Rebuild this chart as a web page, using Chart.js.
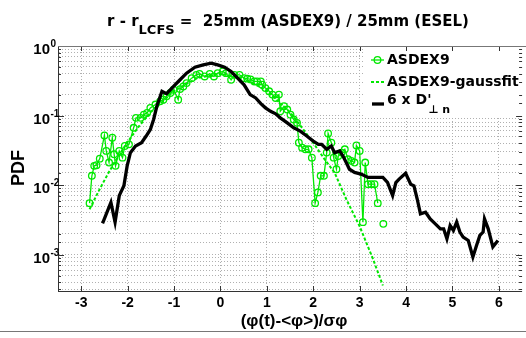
<!DOCTYPE html>
<html lang="en">
<head>
  <meta charset="UTF-8">
  <title>PDF at r - r_LCFS = 25mm</title>
  <script src="https://cdn.jsdelivr.net/npm/chart.js"></script>
  <style>
    html, body { margin: 0; padding: 0; background: #fff; }
    canvas { display: block; }
  </style>
</head>
<body>
  <canvas id="pdf-chart" width="526" height="338"></canvas>

  <script>
// ASDEX9 probe data (circles), null = gap
const asdexX = [-2.82,-2.77,-2.72,-2.67,-2.60,-2.50,-2.46,-2.40,-2.33,-2.29,
  -2.26,-2.18,-2.11,-2.06,-1.97,-1.87,-1.82,-1.72,-1.65,-1.58,
  -1.51,-1.40,-1.30,-1.23,-1.16,-1.08,-1.01,-0.91,-0.87,-0.80,
  -0.73,-0.62,-0.52,-0.45,-0.34,-0.23,-0.14,-0.06,0.05,0.12,
  0.23,0.30,0.41,0.51,0.58,0.65,0.73,0.79,0.87,0.90,
  0.97,1.05,1.12,1.19,1.26,1.29,1.37,1.44,1.51,1.58,
  1.65,1.69,1.76,1.83,1.90,1.97,2.04,2.10,2.16,2.23,
  2.29,2.32,2.39,2.44,2.50,2.54,2.61,2.68,2.75,2.82,
  2.89,2.93,3.00,3.07,3.12,3.18,3.25,3.32,3.39,3.45,
  3.51];
const asdexY = [0.0055,0.0136,0.0189,0.0193,0.024,0.0518,0.031,0.0211,0.048,0.0277,
  0.0189,0.031,0.0248,0.0365,0.0385,0.0667,0.0927,0.0927,0.103,0.109,
  0.129,0.144,0.160,0.169,0.189,0.211,0.235,0.169,0.24,0.262,
  0.293,0.345,0.385,0.398,0.365,0.398,0.365,0.407,0.430,0.407,
  0.327,0.385,0.385,0.345,0.339,0.331,0.309,0.309,0.309,0.277,
  0.248,0.223,0.20,0.179,0.20,0.115,0.136,0.122,0.103,0.0877,
  0.0785,0.0407,0.0345,0.0327,0.0327,0.0248,0.0055,0.00785,0.0136,0.0136,
  0.0293,0.0553,0.0407,0.0248,0.0169,0.0262,0.0293,0.0327,0.0235,0.0223,
  0.0211,0.0372,0.031,0.00293,0.0211,0.0103,0.0103,0.0103,0.0055,null,
  0.00277];

// gauss fit to ASDEX9 (dashed)
const gaussX = [-2.82,-2.6,-2.4,-2.2,-2.0,-1.75,-1.5,-1.0,-0.5,0,0.5,1.0,1.5,1.72,2.0,2.25,2.46,2.71,3.0,3.28,3.5];
const gaussY = [0.0045,0.0088,0.0155,0.026,0.0417,0.0708,0.112,0.226,0.346,0.398,0.346,0.226,0.112,0.072,0.0405,0.0232,0.0151,0.0063,0.00255,0.00089,0.00036];

// ESEL simulation, 6 x D'
const eselX = [-2.54,-2.36,-2.27,-2.18,-2.08,-2.01,-1.94,-1.83,-1.70,-1.60,
  -1.51,-1.44,-1.37,-1.26,-1.16,-1.01,-0.87,-0.73,-0.55,-0.37,
  -0.20,-0.06,0.09,0.23,0.37,0.51,0.64,0.76,0.87,0.97,
  1.08,1.19,1.29,1.44,1.58,1.72,1.86,2.00,2.11,2.18,
  2.29,2.39,2.46,2.57,2.64,2.71,2.78,2.89,3.03,3.18,
  3.32,3.50,3.60,3.71,3.78,3.85,3.99,4.10,4.17,4.24,
  4.31,4.42,4.52,4.63,4.74,4.81,4.88,4.95,5.02,5.09,
  5.16,5.23,5.34,5.44,5.52,5.59,5.66,5.69,5.77,5.87,
  5.98];
const eselY = [0.00282,0.00565,0.00293,0.00705,0.00977,0.0189,0.0293,0.0365,0.0407,0.0507,
  0.0631,0.0877,0.136,0.223,0.206,0.262,0.327,0.407,0.495,0.536,
  0.565,0.536,0.495,0.430,0.345,0.277,0.20,0.179,0.148,0.129,
  0.115,0.106,0.0927,0.0785,0.0667,0.0597,0.0507,0.043,0.0385,0.0385,
  0.0327,0.0365,0.0293,0.031,0.0262,0.0211,0.0169,0.0152,0.0144,0.0129,
  0.0129,0.0129,0.0109,0.00705,0.0109,0.0122,0.0148,0.0103,0.00977,0.00631,
  0.00385,0.00407,0.00327,0.00277,0.00235,0.00235,0.00169,0.00262,0.00223,0.00293,
  0.00211,0.00179,0.0016,0.000927,0.00136,0.00189,0.00211,0.00327,0.00235,0.00129,
  0.0016];

const GREEN = '#00e800';
const WIDE = '"DejaVu Sans", sans-serif';

const toPoints = (xs, ys) => xs.map((x, i) => ({ x: x, y: ys[i] }));

// draws the matlab-ish frame, labels, title and legend
const framePlugin = {
  id: 'frame',
  afterDraw(chart) {
    const ctx = chart.ctx;
    const area = chart.chartArea;
    const xs = chart.scales.x;
    const ys = chart.scales.y;
    const rightEdge = xs.getPixelForValue(6.5);

    ctx.save();

    // legend box
    ctx.fillStyle = '#fff';
    ctx.fillRect(363, area.top + 1, chart.width - 363, 70);

    // ticks inside the box
    ctx.strokeStyle = '#333';
    ctx.lineWidth = 1;
    ctx.beginPath();
    xs.ticks.forEach(t => {
      const px = Math.round(xs.getPixelForValue(t.value)) + 0.5;
      ctx.moveTo(px, area.bottom); ctx.lineTo(px, area.bottom - 5);
      ctx.moveTo(px, area.top); ctx.lineTo(px, area.top + 5);
    });
    ys.ticks.forEach(t => {
      const py = Math.round(ys.getPixelForValue(t.value)) + 0.5;
      const len = t.major ? 6 : 3;
      ctx.moveTo(area.left, py); ctx.lineTo(area.left + len, py);
      ctx.moveTo(rightEdge, py); ctx.lineTo(rightEdge - len, py);
    });
    ctx.stroke();

    // top border
    ctx.strokeStyle = '#777';
    ctx.beginPath();
    ctx.moveTo(area.left, area.top + 0.5);
    ctx.lineTo(chart.width, area.top + 0.5);
    ctx.stroke();

    // bottom rule
    ctx.beginPath();
    ctx.moveTo(0, 331.5);
    ctx.lineTo(chart.width, 331.5);
    ctx.stroke();

    // y tick labels 10^n
    ctx.fillStyle = '#000';
    ys.ticks.forEach(t => {
      const e = Math.log10(t.value);
      if (Math.abs(e - Math.round(e)) > 1e-6) return;
      const py = ys.getPixelForValue(t.value);
      ctx.font = 'bold 15px "Liberation Sans", Arial, sans-serif';
      ctx.textAlign = 'right';
      ctx.textBaseline = 'middle';
      ctx.fillText('10', 50, py + 4);
      ctx.font = 'bold 10px "Liberation Sans", Arial, sans-serif';
      ctx.textAlign = 'left';
      ctx.fillText(String(Math.round(e)), 50.5, py - 1.5);
    });

    // y axis title
    ctx.save();
    ctx.translate(19, 168);
    ctx.rotate(-Math.PI / 2);
    ctx.font = 'bold 18px "Liberation Sans", Arial, sans-serif';
    ctx.textAlign = 'center';
    ctx.textBaseline = 'middle';
    ctx.fillText('PDF', 0, 0);
    ctx.restore();

    // x axis title
    ctx.font = 'bold 17px "Liberation Sans", Arial, sans-serif';
    ctx.textAlign = 'center';
    ctx.textBaseline = 'middle';
    ctx.fillText('(\u03c6(t)-<\u03c6>)/\u03c3\u03c6', 294, 321);

    // title with subscript
    const t1 = 'r - r', t2 = 'LCFS', t3 = ' =  25mm (ASDEX9) / 25mm (ESEL)';
    ctx.textAlign = 'left';
    ctx.textBaseline = 'alphabetic';
    ctx.font = 'bold 15px ' + WIDE;
    const w1 = ctx.measureText(t1).width, w3 = ctx.measureText(t3).width;
    ctx.font = 'bold 13px ' + WIDE;
    const w2 = ctx.measureText(t2).width;
    let tx = 288 - (w1 + w2 + w3) / 2;
    ctx.font = 'bold 15px ' + WIDE;
    ctx.fillText(t1, tx, 25.5); tx += w1;
    ctx.font = 'bold 13px ' + WIDE;
    ctx.fillText(t2, tx, 33.5); tx += w2;
    ctx.font = 'bold 15px ' + WIDE;
    ctx.fillText(t3, tx, 25.5);

    // legend entries
    const lx0 = 371, lx1 = 384, tx0 = 387;
    ctx.textBaseline = 'middle';
    ctx.font = 'bold 14px ' + WIDE;

    ctx.strokeStyle = GREEN;
    ctx.lineWidth = 1.3;
    ctx.beginPath(); ctx.moveTo(lx0, 60); ctx.lineTo(lx1, 60); ctx.stroke();
    ctx.beginPath(); ctx.arc((lx0 + lx1) / 2, 60, 3.3, 0, Math.PI * 2); ctx.stroke();
    ctx.fillText('ASDEX9', tx0, 60.5);

    ctx.lineWidth = 2;
    ctx.setLineDash([3, 2]);
    ctx.beginPath(); ctx.moveTo(lx0, 82); ctx.lineTo(lx1, 82); ctx.stroke();
    ctx.setLineDash([]);
    ctx.fillText('ASDEX9-gaussfit', tx0, 82);

    ctx.strokeStyle = '#000';
    ctx.lineWidth = 3.3;
    ctx.beginPath(); ctx.moveTo(lx0 + 1, 104); ctx.lineTo(lx1, 104); ctx.stroke();
    ctx.fillText("6 x D'", tx0, 100.5);
    const wd = ctx.measureText("6 x D'").width;
    ctx.font = 'bold 11px ' + WIDE;
    ctx.fillText('\u22a5 n', tx0 + wd - 3, 110);

    ctx.restore();
  }
};

new Chart(document.getElementById('pdf-chart'), {
  type: 'line',
  data: {
    datasets: [
      {
        label: "6 x D'",
        data: toPoints(eselX, eselY),
        borderColor: '#000',
        borderWidth: 3.3,
        pointRadius: 0,
        tension: 0,
        order: 0
      },
      {
        label: 'ASDEX9',
        data: toPoints(asdexX, asdexY),
        borderColor: GREEN,
        borderWidth: 1.3,
        pointRadius: 3.3,
        pointBorderWidth: 1.3,
        pointBorderColor: GREEN,
        pointBackgroundColor: 'rgba(0,0,0,0)',
        spanGaps: false,
        tension: 0,
        order: 1
      },
      {
        label: 'ASDEX9-gaussfit',
        data: toPoints(gaussX, gaussY),
        borderColor: GREEN,
        borderWidth: 2,
        borderDash: [3, 2],
        pointRadius: 0,
        tension: 0,
        order: 2
      }
    ]
  },
  options: {
    responsive: false,
    devicePixelRatio: 1,
    animation: false,
    layout: { padding: { top: 46, left: 0, right: 0, bottom: 0 } },
    plugins: {
      legend: { display: false },
      tooltip: { enabled: false }
    },
    scales: {
      x: {
        type: 'linear',
        min: -3.5,
        max: 6.47,
        afterFit: s => { s.height = 47; },
        ticks: {
          stepSize: 1,
          includeBounds: false,
          autoSkip: false,
          maxRotation: 0,
          padding: 4,
          color: '#000',
          font: { family: '"Liberation Sans", Arial, sans-serif', size: 14, weight: 'bold' }
        },
        grid: { color: '#b0b0b0', lineWidth: 1, drawTicks: false },
        border: { display: true, color: '#333', width: 1, dash: [1, 2] }
      },
      y: {
        type: 'logarithmic',
        min: Math.pow(10, -3.5),
        max: 1,
        afterFit: s => { s.width = 58; },
        ticks: {
          autoSkip: false,
          callback: () => ''
        },
        grid: { color: '#b0b0b0', lineWidth: 1, drawTicks: false },
        border: { display: true, color: '#333', width: 1, dash: [1, 2] }
      }
    }
  },
  plugins: [framePlugin]
});
  </script>
</body>
</html>
